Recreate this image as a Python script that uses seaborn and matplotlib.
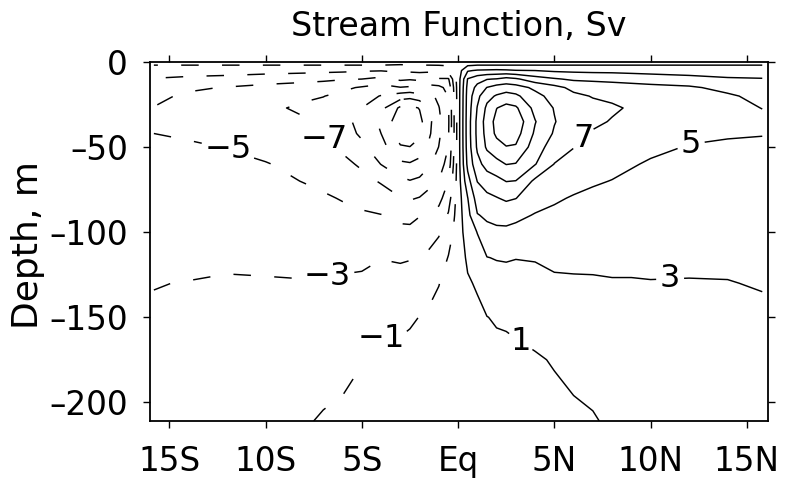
import numpy as np
import matplotlib
matplotlib.use("Agg")
import matplotlib.pyplot as plt
import seaborn as sns

# Latitude of each model column (negative = south) and depth levels (m)
lats = [-15.8, -14, -12, -10, -8, -7, -6, -5, -4, -3, -2.5, -2, -1.5, -1, -0.5,
        0, 0.5, 1, 1.5, 2, 2.5, 3, 4, 5, 6, 7, 8, 9, 10, 12, 14, 15.8]
depths = [0, -2, -5, -10, -15, -20, -27, -35, -42, -50, -60, -70, -80, -90,
          -100, -115, -130, -150, -175, -211]

# Meridional stream function (Sv), one profile per latitude, top to bottom
psi_columns = [
    [0, -1.1, -2.0, -3.1, -4.0, -4.6, -5.05, -5.4, -5.0, -4.8, -4.6, -4.4, -4.2, -4.0, -3.8, -3.5, -3.05, -2.8, -2.6, -2.4],
    [0, -1.1, -2.1, -3.4, -4.7, -5.3, -5.7, -5.7, -5.2, -4.8, -4.6, -4.4, -4.2, -4.0, -3.8, -3.45, -2.95, -2.6, -2.4, -2.2],
    [0, -1.1, -2.2, -3.6, -5.1, -5.8, -6.2, -6.2, -5.7, -5.05, -4.7, -4.5, -4.3, -4.1, -3.85, -3.35, -2.8, -2.4, -2.1, -1.8],
    [0, -1.1, -2.3, -4.0, -5.6, -6.3, -6.7, -6.6, -6.2, -5.6, -4.9, -4.6, -4.35, -4.1, -3.85, -3.4, -2.85, -2.3, -1.9, -1.5],
    [0, -1.1, -2.4, -4.4, -5.9, -6.75, -7.25, -6.85, -6.5, -6.1, -5.55, -5.05, -4.6, -4.3, -4.0, -3.5, -2.9, -2.2, -1.6, -1.1],
    [0, -1.1, -2.5, -4.6, -6.1, -6.95, -7.6, -7.5, -7.15, -6.7, -6.0, -5.35, -4.8, -4.4, -4.1, -3.5, -2.85, -2.1, -1.45, -0.9],
    [0, -1.1, -2.6, -4.85, -6.6, -7.5, -8.3, -8.5, -8.2, -7.4, -6.4, -5.7, -5.1, -4.6, -4.2, -3.45, -2.75, -2.0, -1.35, -0.75],
    [0, -1.1, -2.8, -5.0, -7.2, -8.2, -9.0, -9.5, -9.3, -8.6, -7.35, -6.3, -5.45, -4.8, -4.3, -3.4, -2.65, -1.85, -1.05, -0.5],
    [0, -1.1, -2.9, -5.6, -7.8, -9.1, -10.4, -11.4, -11.0, -10.2, -9.05, -7.2, -6.0, -4.95, -4.3, -3.05, -2.35, -1.25, -0.75, -0.35],
    [0, -1.3, -2.6, -4.6, -7.1, -10.0, -13.4, -14.3, -14.0, -12.8, -10.6, -8.5, -6.9, -5.5, -4.5, -3.2, -2.3, -1.25, -0.7, -0.3],
    [0, -1.2, -2.6, -4.8, -7.3, -10.3, -13.6, -14.6, -14.3, -12.95, -10.8, -8.9, -7.2, -5.6, -4.5, -3.1, -2.2, -1.15, -0.6, -0.25],
    [0, -1.1, -2.5, -4.6, -6.9, -9.8, -12.9, -13.6, -13.4, -12.2, -10.3, -8.6, -6.9, -5.1, -4.1, -2.95, -1.9, -0.98, -0.5, -0.2],
    [0, -1.1, -2.5, -5.1, -7.9, -9.6, -10.7, -11.5, -11.3, -10.6, -9.3, -7.6, -6.3, -4.8, -3.8, -2.6, -1.5, -0.75, -0.4, -0.15],
    [0, -1.05, -2.4, -5.2, -7.5, -8.5, -9.1, -9.5, -9.4, -8.95, -8.0, -6.95, -5.6, -4.3, -3.2, -2.1, -1.05, -0.5, -0.25, -0.1],
    [0, -0.9, -2.2, -5.2, -6.4, -6.9, -7.2, -7.3, -7.2, -6.95, -6.2, -4.95, -3.9, -2.8, -1.9, -0.9, -0.45, -0.2, -0.1, -0.05],
    [0, 0, 0, 0, 0, 0, 0, 0, 0, 0, 0, 0, 0, 0, 0, 0, 0, 0, 0, 0],
    [0, 0.9, 2.8, 5.1, 5.6, 5.8, 5.9, 6.0, 6.0, 5.9, 5.5, 4.3, 2.95, 2.4, 2.0, 1.3, 0.8, 0.4, 0.2, 0.05],
    [0, 1.1, 3.2, 6.2, 7.6, 8.5, 9.1, 9.5, 9.5, 9.3, 8.4, 7.05, 5.9, 4.9, 3.05, 2.2, 1.2, 0.6, 0.3, 0.1],
    [0, 1.1, 3.3, 6.9, 9.05, 10.4, 11.4, 11.9, 11.7, 11.3, 9.7, 8.0, 6.5, 5.3, 4.5, 2.95, 2.05, 0.97, 0.5, 0.2],
    [0, 1.1, 3.4, 7.1, 9.8, 11.2, 12.95, 13.6, 13.4, 12.2, 10.4, 8.4, 6.9, 5.6, 4.6, 3.1, 2.2, 1.15, 0.55, 0.25],
    [0, 1.1, 3.3, 7.7, 10.0, 11.8, 13.6, 14.6, 14.2, 12.9, 11.05, 9.05, 7.3, 5.7, 4.6, 3.15, 2.3, 1.2, 0.6, 0.3],
    [0, 1.1, 3.1, 7.3, 9.8, 11.4, 13.3, 14.3, 13.8, 12.8, 10.9, 8.95, 7.05, 5.4, 4.5, 3.05, 2.3, 1.3, 0.7, 0.35],
    [0, 1.1, 3.0, 5.9, 8.6, 9.6, 10.4, 11.1, 10.7, 10.0, 9.1, 6.6, 5.7, 4.9, 4.3, 3.1, 2.5, 1.6, 0.85, 0.4],
    [0, 1.1, 2.7, 5.2, 7.6, 8.3, 8.9, 9.1, 8.8, 8.0, 6.95, 6.2, 5.25, 4.6, 4.1, 3.4, 2.7, 1.9, 1.1, 0.55],
    [0, 1.1, 2.6, 4.7, 6.5, 7.4, 7.9, 7.9, 7.5, 7.05, 6.3, 5.6, 4.85, 4.3, 3.9, 3.35, 2.8, 2.0, 1.35, 0.75],
    [0, 1.1, 2.5, 4.6, 6.1, 6.9, 7.5, 7.3, 6.85, 6.4, 5.8, 5.2, 4.6, 4.2, 3.8, 3.4, 2.8, 2.2, 1.5, 0.9],
    [0, 1.1, 2.5, 4.4, 6.0, 6.7, 7.2, 6.9, 6.5, 6.1, 5.5, 4.95, 4.4, 4.0, 3.7, 3.35, 2.9, 2.3, 1.7, 1.2],
    [0, 1.1, 2.4, 4.2, 5.8, 6.4, 6.85, 6.6, 6.2, 5.7, 5.15, 4.6, 4.2, 3.9, 3.65, 3.35, 2.9, 2.4, 1.9, 1.35],
    [0, 1.1, 2.3, 4.0, 5.6, 6.2, 6.6, 6.4, 6.0, 5.4, 4.8, 4.4, 4.1, 3.8, 3.6, 3.3, 2.95, 2.5, 2.0, 1.5],
    [0, 1.1, 2.2, 3.6, 5.3, 5.9, 6.1, 5.9, 5.4, 4.9, 4.5, 4.2, 3.9, 3.7, 3.5, 3.2, 2.95, 2.6, 2.2, 1.7],
    [0, 1.1, 2.1, 3.2, 4.4, 5.3, 5.8, 5.8, 5.2, 4.7, 4.4, 4.2, 4.0, 3.8, 3.6, 3.3, 2.95, 2.6, 2.2, 1.8],
    [0, 1.1, 2.0, 3.1, 3.8, 4.4, 4.95, 5.6, 5.05, 4.8, 4.6, 4.4, 4.2, 4.0, 3.8, 3.5, 3.1, 2.7, 2.3, 1.8],
]

contour_levels = [-13, -11, -9, -7, -5, -3, -1, 1, 3, 5, 7, 9, 11, 13]
label_spots = [(-11.9, -50), (-6.9, -45), (-6.8, -125), (-4.0, -160),
               (3.5, -160), (6.5, -45), (11.0, -123), (12.1, -49)]

xtick_pos = [-15, -10, -5, 0, 5, 10, 15]
xtick_text = ["15S", "10S", "5S", "Eq", "5N", "10N", "15N"]
ytick_pos = [0, -50, -100, -150, -200]
ytick_text = ["0", "\u201350", "\u2013100", "\u2013150", "\u2013200"]

sns.set_theme(style="ticks", rc={"axes.linewidth": 1.3,
                                 "xtick.major.width": 1.0,
                                 "ytick.major.width": 1.0})
plt.rcParams["font.family"] = ["DejaVu Sans"]

fig = plt.figure(figsize=(7.9, 4.78), dpi=100)
ax = fig.add_axes([0.1899, 0.1192, 0.7823, 0.7510])

psi = np.array(psi_columns).T
lon_grid, depth_grid = np.meshgrid(lats, depths)

styles = [(0, (12, 16)) if v < 0 else "solid" for v in contour_levels]
cs = ax.contour(lon_grid, depth_grid, psi, levels=contour_levels,
                colors="black", linewidths=1.05, linestyles=styles)


def level_text(v):
    return f"{v:.0f}".replace("-", "\u2212")


texts = ax.clabel(cs, manual=label_spots, fmt=level_text, fontsize=23,
                  inline=True, inline_spacing=4)
for t in texts:
    t.set_rotation(0)

ax.set_xlim(-16, 16.1)
ax.set_ylim(-211, 0)
ax.set_xticks(xtick_pos)
ax.set_xticklabels(xtick_text)
ax.set_yticks(ytick_pos)
ax.set_yticklabels(ytick_text)
ax.tick_params(axis="both", direction="out", length=5, labelsize=23.5,
               top=True, right=True, labeltop=False, labelright=False,
               colors="black")
ax.tick_params(axis="x", pad=12.5)
ax.tick_params(axis="y", pad=11)
for side in ax.spines.values():
    side.set_visible(True)
    side.set_color("black")

ax.set_ylabel("Depth, m", fontsize=26, color="black")
ax.yaxis.set_label_coords(-0.17, 0.49)

fig.text(0.581, 1 - 36 / 478, "Stream Function, Sv", ha="center",
         va="baseline", fontsize=24, color="black")

fig.savefig("out.png", dpi=100, facecolor="white")
